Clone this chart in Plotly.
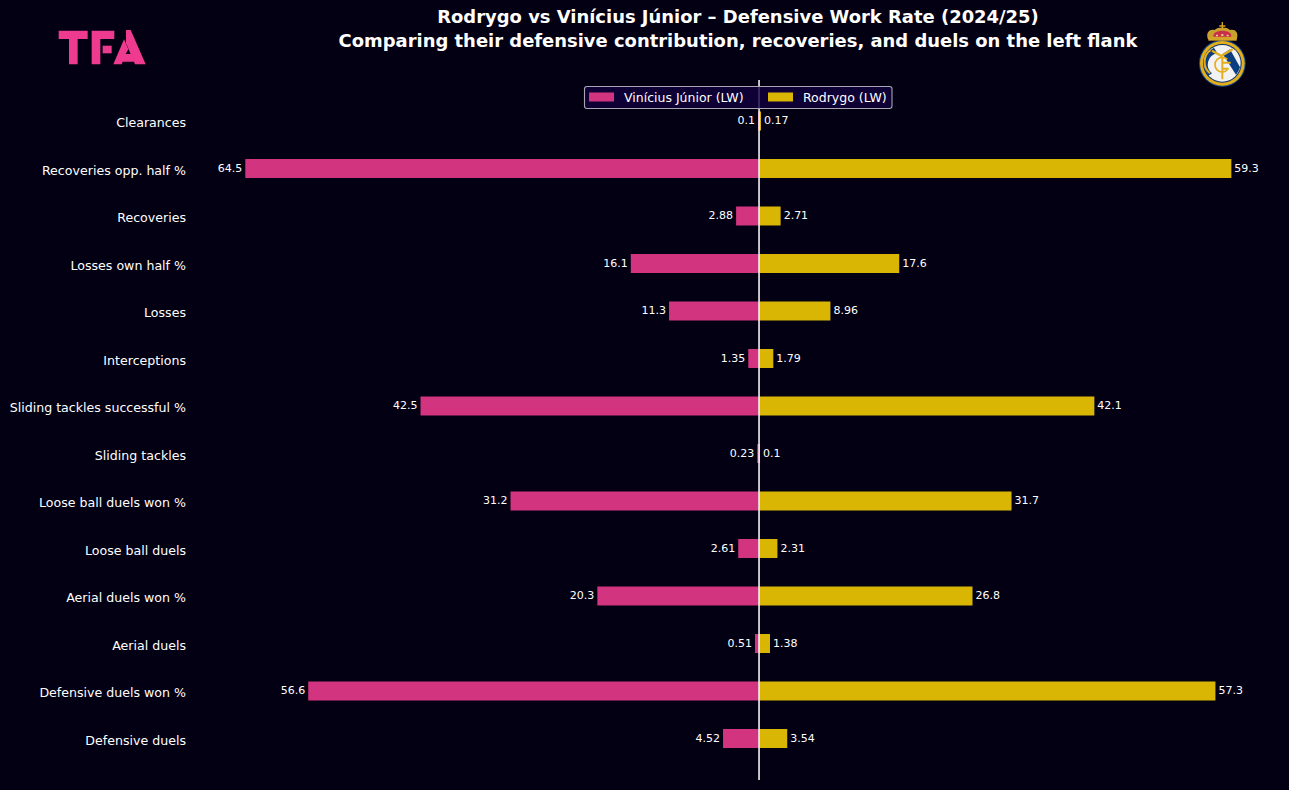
import base64
import plotly.graph_objects as go

categories = ["Defensive duels", "Defensive duels won %", "Aerial duels", "Aerial duels won %",
              "Loose ball duels", "Loose ball duels won %", "Sliding tackles",
              "Sliding tackles successful %", "Interceptions", "Losses", "Losses own half %",
              "Recoveries", "Recoveries opp. half %", "Clearances"]
vinicius = [4.52, 56.6, 0.51, 20.3, 2.61, 31.2, 0.23, 42.5, 1.35, 11.3, 16.1, 2.88, 64.5, 0.1]
rodrygo = [3.54, 57.3, 1.38, 26.8, 2.31, 31.7, 0.1, 42.1, 1.79, 8.96, 17.6, 2.71, 59.3, 0.17]
series_names = ["Vinícius Júnior (LW)", "Rodrygo (LW)"]

BG = "#030014"
PINK = "#D23480"
GOLD = "#D9B504"
FONT = "DejaVu Sans"
W, H = 1289, 790
L, R, T, B = 194, 10, 80, 10
PW, PH = W - L - R, H - T - B

TFA_SVG = """<svg xmlns='http://www.w3.org/2000/svg' viewBox='0 0 390 240'>
<g fill='#EE3A8F'>
<path d='M56 62H143V87H113V163H87V87H56Z'/>
<path d='M155 62H223V87H181V163H155Z'/>
<path d='M188 107H215V130H188Z'/>
<path d='M258 60H272L317 163H285L258 100Z'/>
<path d='M252 88L265 118L257 132H275L284 155H248L245 163H220Z'/>
</g></svg>"""

CREST_SVG = """<svg xmlns='http://www.w3.org/2000/svg' viewBox='0 0 240 255'>
<circle cx='127' cy='160' r='70' fill='#1B4F8F'/>
<circle cx='127' cy='160' r='67' fill='#E3AE1E'/>
<circle cx='127' cy='160' r='58' fill='#0B3468'/>
<circle cx='127' cy='160' r='55' fill='#F2F2F2'/>
<path d='M74 160A53 53 0 0 1 102 113L112 130A34 34 0 0 0 96 190L84 198A53 53 0 0 1 74 160Z' fill='#0B3E80'/>
<path d='M128 132L150 118L180 172A53 53 0 0 1 168 194Z' fill='#0B3E80'/>
<path d='M96 122L124 138L158 118' fill='none' stroke='#E3AE1E' stroke-width='7'/>
<path d='M92 120A44 44 0 0 0 90 190' fill='none' stroke='#E3AE1E' stroke-width='6'/>
<path d='M142 148A22 22 0 1 0 142 180' fill='none' stroke='#E3AE1E' stroke-width='5'/>
<path d='M127 140V208M127 158H152M127 176H146' fill='none' stroke='#E3AE1E' stroke-width='6'/>
<path d='M84 88C76 66 90 56 104 60C112 50 142 50 150 60C164 56 178 66 170 88Z' fill='#C9A02C'/>
<path d='M100 80C98 68 112 62 127 62C142 62 156 68 154 80Z' fill='#C92F4A'/>
<path d='M108 74h6v5h-6zM124 72h6v6h-6zM140 74h6v5h-6z' fill='#E9D08A'/>
<path d='M125 36H129V46H136V50H129V60H125V50H118V46H125Z' fill='#D5A52A'/>
<path d='M85 82H170V92H85Z' fill='#D5A52A'/>
</svg>"""


def svg_uri(svg):
    return "data:image/svg+xml;base64," + base64.b64encode(svg.encode()).decode()


def px(x):
    return (x - L) / PW


def py(y):
    return (H - B - y) / PH


def logo(svg, x, y, w, h):
    # Place an SVG emblem using figure pixels measured from the top-left corner.
    return dict(source=svg_uri(svg), xref="paper", yref="paper",
                x=px(x), y=py(y), sizex=w / PW, sizey=h / PH,
                xanchor="left", yanchor="top", sizing="stretch", layer="above")


def rounded_box(x0, y0, x1, y1, r):
    return (f"M{px(x0 + r)},{py(y0)} L{px(x1 - r)},{py(y0)} Q{px(x1)},{py(y0)} {px(x1)},{py(y0 + r)} "
            f"L{px(x1)},{py(y1 - r)} Q{px(x1)},{py(y1)} {px(x1 - r)},{py(y1)} "
            f"L{px(x0 + r)},{py(y1)} Q{px(x0)},{py(y1)} {px(x0)},{py(y1 - r)} "
            f"L{px(x0)},{py(y0 + r)} Q{px(x0)},{py(y0)} {px(x0 + r)},{py(y0)} Z")


fig = go.Figure()
label_font = dict(family=FONT, size=11, color="white")
fig.add_bar(y=categories, x=[-v for v in vinicius], orientation="h", width=0.4, name=series_names[0],
            marker=dict(color=PINK, line_width=0), text=[str(v) for v in vinicius],
            textposition="outside", textfont=label_font, cliponaxis=False,
            showlegend=False, hoverinfo="skip")
fig.add_bar(y=categories, x=rodrygo, orientation="h", width=0.4, name=series_names[1],
            marker=dict(color=GOLD, line_width=0), text=[str(v) for v in rodrygo],
            textposition="outside", textfont=label_font, cliponaxis=False,
            showlegend=False, hoverinfo="skip")

shapes = [
    # centre line, then the translucent legend panel over it
    dict(type="line", xref="x", yref="paper", x0=0, x1=0, y0=0, y1=1,
         line=dict(color="#F2F2F2", width=1.6), layer="above"),
    dict(type="path", xref="paper", yref="paper", path=rounded_box(584.5, 86.5, 892, 108.5, 2.5),
         fillcolor="rgba(18,0,60,0.8)", line=dict(color="#A8A6B0", width=1.1), layer="above"),
]
annotations = []
for swatch_x, text_x, name, color in [(589, 624, series_names[0], PINK), (768, 803, series_names[1], GOLD)]:
    shapes.append(dict(type="rect", xref="paper", yref="paper", x0=px(swatch_x), x1=px(swatch_x + 25),
                       y0=py(101.5), y1=py(92.5), fillcolor=color, line_width=0, layer="above"))
    annotations.append(dict(text=name, xref="paper", yref="paper", x=px(text_x), y=py(97.5),
                            xanchor="left", yanchor="middle", xshift=-2, showarrow=False,
                            font=dict(family=FONT, size=12.5, color="white")))

fig.update_layout(
    width=W, height=H, autosize=False,
    margin=dict(l=L, r=R, t=T, b=B, pad=0),
    paper_bgcolor=BG, plot_bgcolor=BG,
    barmode="overlay", showlegend=False,
    font=dict(family=FONT, color="white"),
    title=dict(text="<b>Rodrygo vs Vinícius Júnior – Defensive Work Rate (2024/25)<br>"
                    "Comparing their defensive contribution, recoveries, and duels on the left flank</b>",
               x=(738 / W), xanchor="center", y=0.9705, yanchor="top",
               font=dict(family=FONT, size=17.95, color="white")),
    xaxis=dict(range=[-70.94, 65.28], visible=False, fixedrange=True),
    yaxis=dict(range=[-0.874, 13.863], type="category", categoryorder="array",
               categoryarray=categories, showgrid=False, zeroline=False, showline=False,
               ticks="", ticklabelstandoff=7, ticklabelshift=2, automargin=False,
               tickfont=dict(family=FONT, size=12.6, color="white"), fixedrange=True),
    shapes=shapes,
    annotations=annotations,
    images=[logo(TFA_SVG, 40, 10, 130, 80), logo(CREST_SVG, 1180, 10, 80, 85)],
)

fig.write_html("out.html", config=dict(displayModeBar=False))
